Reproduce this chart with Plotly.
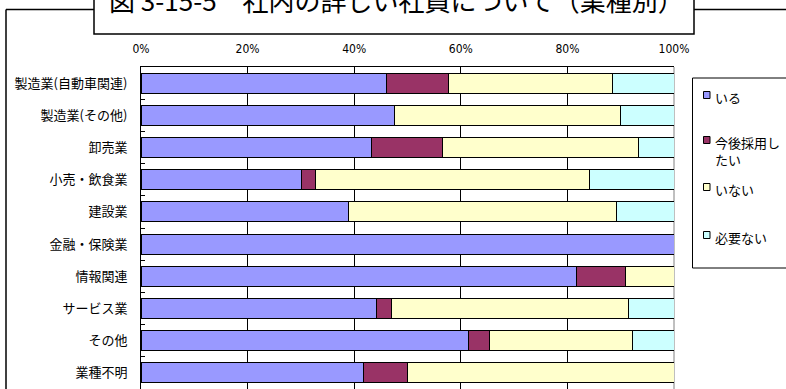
import plotly.graph_objects as go

categories = ["製造業(自動車関連)", "製造業(その他)", "卸売業", "小売・飲食業", "建設業",
              "金融・保険業", "情報関連", "サービス業", "その他", "業種不明"]
series_names = ["いる", "今後採用し<br>たい", "いない", "必要ない"]
iru = [46.0, 47.5, 43.3, 30.1, 39.0, 100.0, 81.7, 44.1, 61.5, 41.7]
kongo = [11.7, 0.0, 13.2, 2.6, 0.0, 0.0, 9.2, 2.9, 3.8, 8.3]
inai = [30.7, 42.5, 36.8, 51.4, 50.2, 0.0, 9.1, 44.4, 27.0, 50.0]
hitsuyou = [11.6, 10.0, 6.7, 15.9, 10.8, 0.0, 0.0, 8.6, 7.7, 0.0]
colors = ["#9999FF", "#993366", "#FFFFCC", "#CCFFFF"]
x_ticks = [0, 0.2, 0.4, 0.6, 0.8, 1.0]
title_text = "図 3-15-5　社内の詳しい社員について（業種別）"

W, H = 786, 389
L, R, T, B = 141, 112, 67, 0
PW, PH = W - L - R, H - T - B


def px(x):
    return (x - L) / PW


def py(y):
    return (H - B - y) / PH


fig = go.Figure()
for i, (name, vals) in enumerate(zip(series_names, [iru, kongo, inai, hitsuyou])):
    fig.add_trace(go.Bar(
        y=categories, x=[v / 100 for v in vals], name=name, orientation="h",
        marker=dict(color=colors[i], line=dict(color="#000000", width=1)),
        hoverinfo="skip", showlegend=False,
    ))

jp = "Noto Sans CJK JP"
fig.update_layout(
    width=W, height=H, barmode="stack", bargap=0.38,
    margin=dict(l=L, r=R, t=T, b=B, autoexpand=False),
    paper_bgcolor="white", plot_bgcolor="white",
    font=dict(family=jp, size=13, color="#000000"),
    showlegend=False,
    xaxis=dict(side="top", range=[0, 1], tickvals=x_ticks, tickformat=".0%",
               showgrid=True, gridcolor="#000000", gridwidth=1,
               showline=True, linecolor="#000000", linewidth=1, zeroline=False,
               ticks="", ticklabelstandoff=8,
               tickfont=dict(family="Liberation Sans Narrow, DejaVu Sans Condensed, sans-serif", size=12, color="#000000"),
               fixedrange=True),
    yaxis=dict(autorange="reversed", type="category", showgrid=False,
               showline=True, linecolor="#000000", linewidth=1,
               ticks="inside", tickson="boundaries", ticklen=4, tickcolor="#000000",
               ticklabelstandoff=10,
               tickfont=dict(family=jp, size=13, color="#000000"), fixedrange=True),
)

shapes = [
    # grey right border of plot area
    dict(type="line", xref="paper", yref="paper", x0=1, x1=1, y0=0, y1=1,
         line=dict(color="#808080", width=1), layer="between"),
    # outer frame
    dict(type="line", xref="paper", yref="paper", x0=px(6), x1=px(94), y0=py(9.5), y1=py(9.5),
         line=dict(color="#000000", width=1.5)),
    dict(type="line", xref="paper", yref="paper", x0=px(694), x1=px(800), y0=py(9.5), y1=py(9.5),
         line=dict(color="#000000", width=1.5)),
    dict(type="line", xref="paper", yref="paper", x0=px(6), x1=px(6), y0=py(9.5), y1=py(400),
         line=dict(color="#000000", width=1.5)),
    # title box
    dict(type="rect", xref="paper", yref="paper", x0=px(94), x1=px(694), y0=py(34), y1=py(-10),
         line=dict(color="#000000", width=1.5), fillcolor="white"),
    # legend box
    dict(type="rect", xref="paper", yref="paper", x0=px(692.5), x1=px(800), y0=py(268), y1=py(78),
         line=dict(color="#000000", width=1), fillcolor="white"),
]

# legend entries (marker square + label)
legend_y = [95, 140, 187, 235]
for i, name in enumerate(series_names):
    cy = legend_y[i]
    shapes.append(dict(type="rect", xref="paper", yref="paper",
                       x0=px(703.5), x1=px(710), y0=py(cy + 3.5), y1=py(cy - 3.5),
                       line=dict(color="#000000", width=1), fillcolor=colors[i]))
    fig.add_annotation(text=name, xref="paper", yref="paper", x=px(713), y=py(cy - 9),
                       xanchor="left", yanchor="top", align="left", showarrow=False,
                       font=dict(family=jp, size=13, color="#000000"))

fig.update_layout(shapes=shapes)
fig.add_annotation(text=title_text, xref="paper", yref="paper", x=px(396.5), y=py(-0.5),
                   xanchor="center", yanchor="middle", showarrow=False,
                   font=dict(family=jp, size=26, color="#000000"))

fig.write_html("out.html", config={"displayModeBar": False},
               post_script="document.body.style.margin='0';")
